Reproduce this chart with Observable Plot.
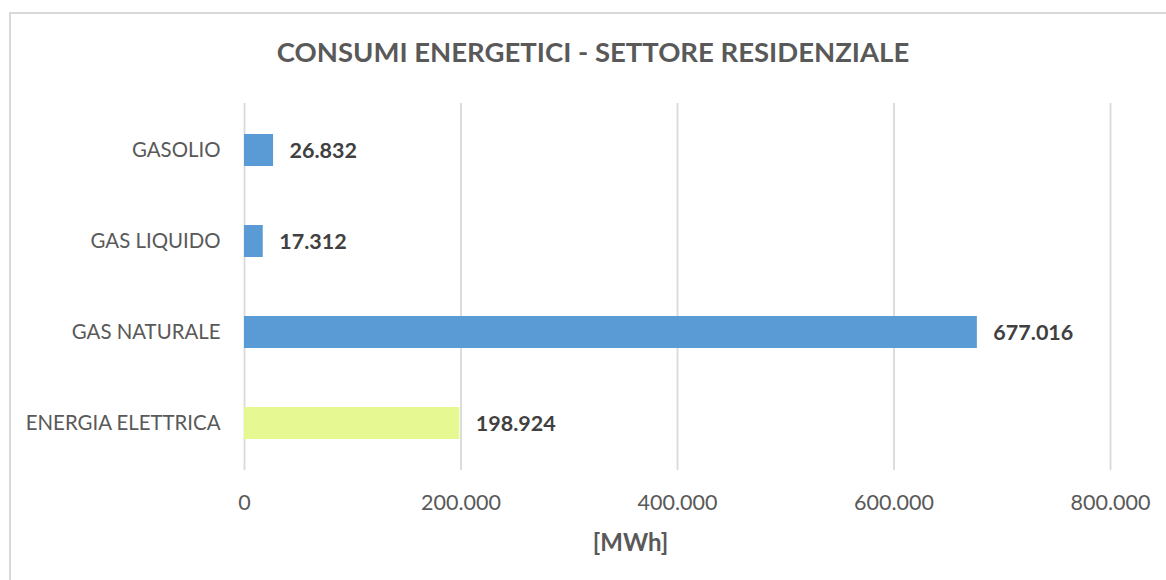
<!DOCTYPE html>
<html>
<head>
<meta charset="utf-8">
<script src="https://cdn.jsdelivr.net/npm/d3@7"></script>
<script src="https://cdn.jsdelivr.net/npm/@observablehq/plot@0.6"></script>
<style>
  html, body { margin: 0; padding: 0; background: #fff; overflow: hidden; }
  #wrap { position: relative; width: 1166px; height: 580px; font-family: Lato, sans-serif; }
  #frame { position: absolute; left: 9px; top: 12px; width: 1200px; height: 620px; border: 2px solid #d9d9d9; box-sizing: border-box; }
  #title { position: absolute; left: 9px; top: 0; width: 1168px; height: 80px; line-height: 104px; text-align: center; font-weight: bold; font-size: 27.5px; color: #595959; }
  #chart { position: absolute; left: 0; top: 80px; }
</style>
</head>
<body>
<div id="wrap">
  <div id="frame"></div>
  <div id="title">CONSUMI ENERGETICI - SETTORE RESIDENZIALE</div>
  <div id="chart"></div>
</div>
<script>
const categories = ["GASOLIO", "GAS LIQUIDO", "GAS NATURALE", "ENERGIA ELETTRICA"];
const values = [26832, 17312, 677016, 198924];
const barColors = ["#5b9bd5", "#5b9bd5", "#5b9bd5", "#e6f892"];
const xTicks = [0, 200000, 400000, 600000, 800000];
const axisLabel = "[MWh]";

const data = categories.map((c, i) => ({cat: c, value: values[i], color: barColors[i]}));
const it = d3.formatLocale({decimal: ",", thousands: ".", grouping: [3], currency: ["€", ""]});
const fmt = it.format(",d");

const plot = Plot.plot({
  width: 1166,
  height: 500,
  marginLeft: 244,
  marginRight: 56,
  marginTop: 23,
  marginBottom: 110,
  style: {fontFamily: "Lato, sans-serif", fontSize: "21px", color: "#595959", background: "transparent"},
  x: {domain: [0, 800000], ticks: xTicks, tickFormat: fmt, label: null},
  y: {domain: categories, paddingInner: 0.65, paddingOuter: 0.325, label: null},
  marks: [
    Plot.gridX(xTicks, {stroke: "#d9d9d9", strokeOpacity: 1, strokeWidth: 1.8}),
    Plot.barX(data, {x: "value", y: "cat", fill: "color"}),
    Plot.text(data, {x: "value", y: "cat", text: d => fmt(d.value), textAnchor: "start", dx: 16, dy: 1, fontWeight: "bold", fill: "#404040", fontSize: 21.5}),
    Plot.axisX({ticks: xTicks, tickFormat: fmt, tickSize: 0, tickPadding: 24, fontSize: 21.5, fill: "#595959", label: null}),
    Plot.axisY({tickSize: 0, tickPadding: 24, fontSize: 20.4, fill: "#595959", label: null}),
    Plot.text([axisLabel], {frameAnchor: "bottom", dx: -47, dy: 80, fontWeight: "bold", fontSize: 24, fill: "#595959"})
  ]
});
document.getElementById("chart").appendChild(plot);
</script>
</body>
</html>
